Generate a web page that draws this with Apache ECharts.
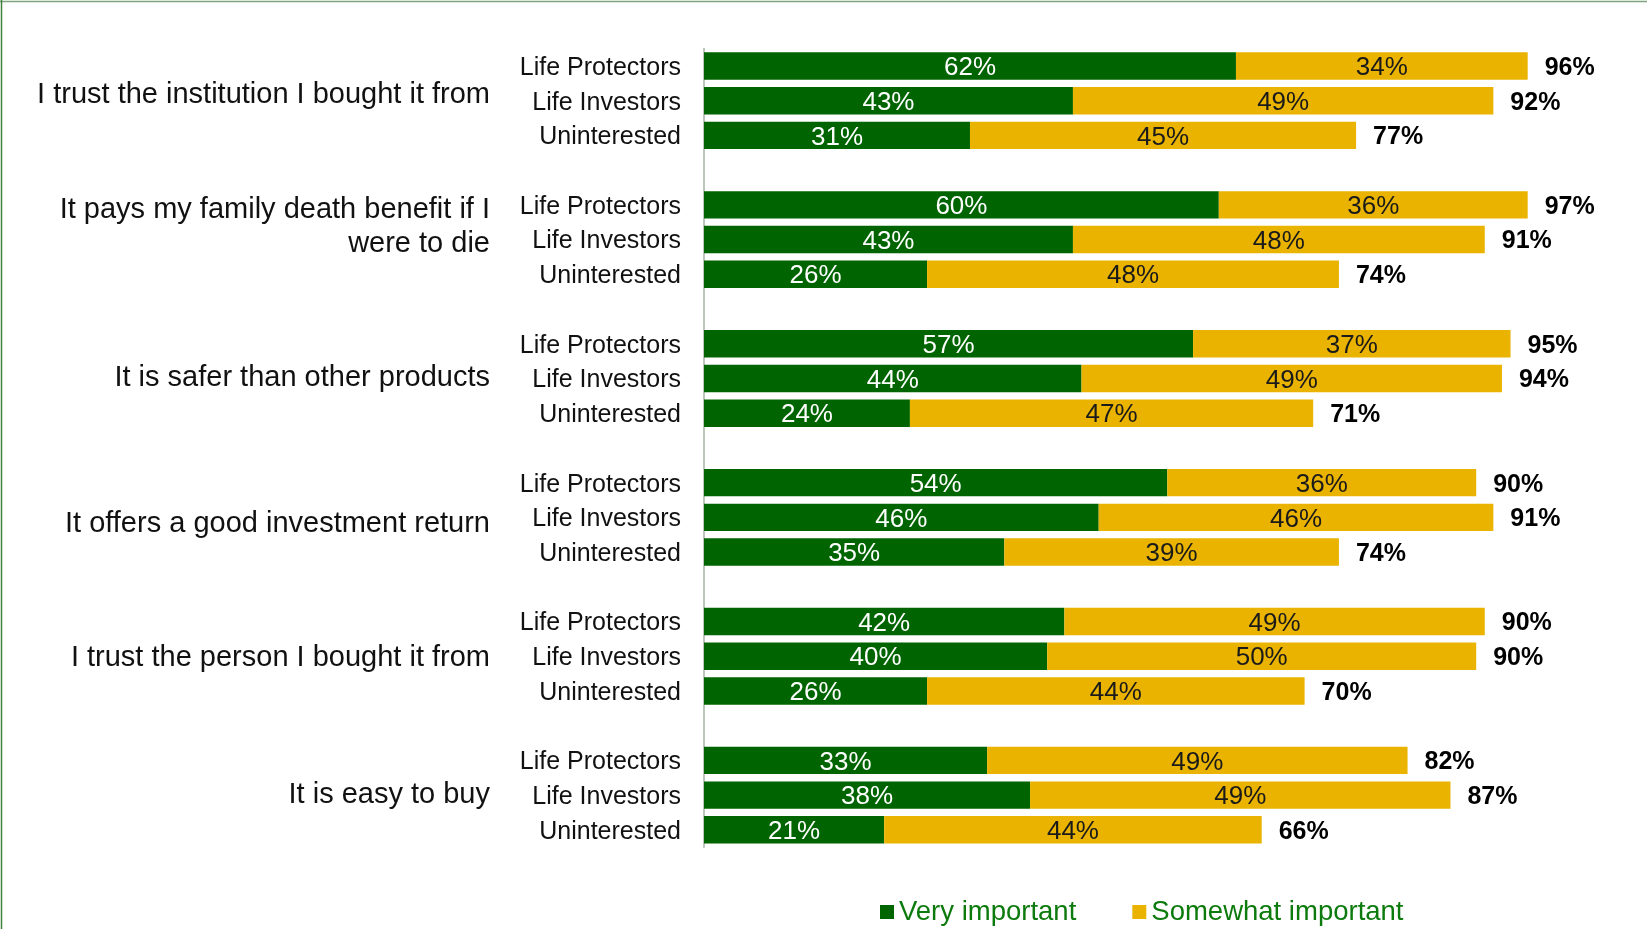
<!DOCTYPE html>
<html>
<head>
<meta charset="utf-8">
<title>Importance ratings</title>
<script src="https://cdn.jsdelivr.net/npm/echarts@6/dist/echarts.min.js"></script>
<style>
  html, body { margin: 0; padding: 0; background: #fff; }
  #chart { width: 1647px; height: 929px; }
</style>
</head>
<body>
<div id="chart"></div>
<script>
// statements, one group of three bars each
const groups = [
  'I trust the institution I bought it from',
  'It pays my family death benefit if I\nwere to die',
  'It is safer than other products',
  'It offers a good investment return',
  'I trust the person I bought it from',
  'It is easy to buy'
]
const segments = ['Life Protectors', 'Life Investors', 'Uninterested']

// very important (green)
const veryImportant = [
  [62, 43, 31],
  [60, 43, 26],
  [57, 44, 24],
  [54, 46, 35],
  [42, 40, 26],
  [33, 38, 21]
]
// somewhat important (yellow)
const somewhatImportant = [
  [34, 49, 45],
  [36, 48, 48],
  [37, 49, 47],
  [36, 46, 39],
  [49, 50, 44],
  [49, 49, 44]
]
// printed totals at the end of each bar
const totals = [
  [96, 92, 77],
  [97, 91, 74],
  [95, 94, 71],
  [90, 91, 74],
  [90, 90, 70],
  [82, 87, 66]
]

// the group captions are not quite centred on their rows in the original (px, minus = up)
const groupLabelShift = [-5.5, -13, 0, 6.5, 2, 0]

// flatten into rows, with an empty row between groups
const rowLabels = []
const groupLabels = []
const veryRows = []
const somewhatRows = []
const endRows = []
const totalRows = []
groups.forEach((g, gi) => {
  if (gi > 0) {
    rowLabels.push('')
    groupLabels.push('')
    veryRows.push('-')
    somewhatRows.push('-')
    endRows.push('-')
    totalRows.push(null)
  }
  segments.forEach((s, si) => {
    rowLabels.push(s)
    groupLabels.push(si === 1 ? g : '')
    veryRows.push(veryImportant[gi][si])
    somewhatRows.push(somewhatImportant[gi][si])
    endRows.push(veryImportant[gi][si] + somewhatImportant[gi][si])
    totalRows.push(totals[gi][si])
  })
})

const FONT = '"Liberation Sans", Arial, sans-serif'
const GREEN = '#006400'
const YELLOW = '#e9b300'

// rich styles for the group captions: text lines plus an invisible spacer line per group
const groupRich = { n: { fontSize: 29, lineHeight: 34, color: '#111', fontFamily: FONT } }
groupLabelShift.forEach((d, i) => {
  groupRich['s' + i] = { fontSize: 1, lineHeight: Math.max(1, Math.abs(d) * 2), color: 'rgba(0,0,0,0)' }
})

const groupCaption = v => {
  const gi = groups.indexOf(v)
  if (gi < 0) return ''
  const text = v.split('\n').map(t => '{n|' + t + '}').join('\n')
  const d = groupLabelShift[gi]
  if (d < 0) return text + '\n{s' + gi + '| }'
  if (d > 0) return '{s' + gi + '| }\n' + text
  return text
}

const chart = echarts.init(document.getElementById('chart'))

chart.setOption({
  animation: false,
  textStyle: { fontFamily: FONT },
  grid: {
    left: 704,
    top: 48.6,
    width: 858,
    height: 798.6,
    containLabel: false,
    outerBoundsMode: 'none'
  },
  legend: {
    data: ['Very important', 'Somewhat important'],
    left: 875,
    top: 893,
    icon: 'rect',
    itemWidth: 14,
    itemHeight: 14,
    itemGap: 56,
    textStyle: { fontSize: 27.5, color: '#0c7a0c', fontFamily: FONT }
  },
  xAxis: {
    type: 'value',
    min: 0,
    max: 100,
    show: false
  },
  yAxis: [{
    type: 'category',
    inverse: true,
    data: rowLabels,
    axisLine: { show: true, lineStyle: { color: '#a3b5a3', width: 1.5 } },
    axisTick: { show: false },
    axisLabel: {
      interval: 0,
      margin: 23,
      formatter: v => v ? '{r|' + v + '}' : '',
      rich: {
        r: { fontSize: 25, color: '#111', fontFamily: FONT, padding: [4, 0, 0, 0] }
      }
    }
  }, {
    type: 'category',
    inverse: true,
    position: 'left',
    data: groupLabels,
    axisLine: { show: false },
    axisTick: { show: false },
    axisLabel: {
      interval: 0,
      margin: 214,
      align: 'right',
      formatter: groupCaption,
      rich: groupRich
    }
  }],
  series: [{
    name: 'Very important',
    type: 'bar',
    stack: 'share',
    yAxisIndex: 0,
    data: veryRows,
    barCategoryGap: '21%',
    barGap: '-100%',
    itemStyle: { color: GREEN },
    emphasis: { disabled: true },
    label: {
      show: true,
      position: 'inside',
      offset: [0, 2],
      formatter: '{c}%',
      fontSize: 26,
      color: '#fff',
      fontFamily: FONT
    }
  }, {
    name: 'Somewhat important',
    type: 'bar',
    stack: 'share',
    yAxisIndex: 0,
    data: somewhatRows,
    barCategoryGap: '21%',
    barGap: '-100%',
    itemStyle: { color: YELLOW },
    emphasis: { disabled: true },
    label: {
      show: true,
      position: 'inside',
      offset: [0, 2],
      formatter: '{c}%',
      fontSize: 26,
      color: '#1a1a1a',
      fontFamily: FONT
    }
  }, {
    // invisible bar to the end of the stack, carries the total label
    name: 'Total',
    type: 'bar',
    yAxisIndex: 0,
    data: endRows,
    barCategoryGap: '21%',
    barGap: '-100%',
    silent: true,
    z: 1,
    itemStyle: { color: 'rgba(0,0,0,0)' },
    emphasis: { disabled: true },
    label: {
      show: true,
      position: 'right',
      distance: 17,
      offset: [0, 2],
      formatter: p => totalRows[p.dataIndex] + '%',
      fontSize: 25,
      fontWeight: 'bold',
      color: '#000',
      fontFamily: FONT
    }
  }],
  graphic: [{
    type: 'line',
    shape: { x1: 0, y1: 1.5, x2: 1647, y2: 1.5 },
    style: { stroke: '#7ea57e', lineWidth: 1.5 }
  }, {
    type: 'line',
    shape: { x1: 1.5, y1: 0, x2: 1.5, y2: 929 },
    style: { stroke: '#3f7f3f', lineWidth: 1.5 }
  }]
})
</script>
</body>
</html>
